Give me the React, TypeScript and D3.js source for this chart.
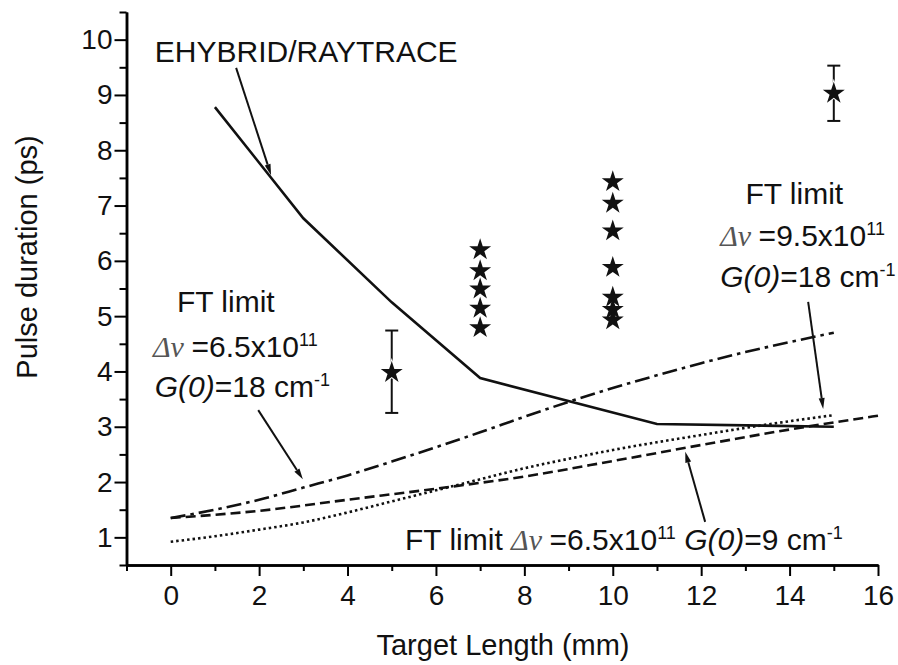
import { useEffect, useRef } from "react";
import * as d3 from "d3";

const W = 898;
const H = 665;
const FONT = "'Liberation Sans', Arial, Helvetica, sans-serif";

// EHYBRID/RAYTRACE model (solid)
const ehybridX = [1, 3, 5, 7, 11, 15];
const ehybridY = [8.78, 6.77, 5.25, 3.88, 3.05, 3.0];

// FT limit, dv = 6.5x10^11, G(0) = 18 cm^-1 (dash-dot)
const ftA_X = [0, 1, 2, 3, 4, 5, 6, 7, 8, 9, 10, 11, 12, 13, 14, 15];
const ftA_Y = [1.35, 1.5, 1.68, 1.9, 2.12, 2.37, 2.63, 2.9, 3.18, 3.45, 3.7, 3.93, 4.15, 4.35, 4.53, 4.7];

// FT limit, dv = 6.5x10^11, G(0) = 9 cm^-1 (dashed)
const ftB_X = [0, 2, 4, 6, 8, 10, 12, 14, 16];
const ftB_Y = [1.35, 1.48, 1.68, 1.88, 2.1, 2.38, 2.67, 2.95, 3.2];

// FT limit, dv = 9.5x10^11, G(0) = 18 cm^-1 (dotted)
const ftC_X = [0, 1, 2, 3, 4, 5, 6, 7, 8, 9, 10, 11, 12, 13, 14, 15];
const ftC_Y = [0.92, 1.02, 1.14, 1.27, 1.45, 1.65, 1.85, 2.05, 2.25, 2.42, 2.58, 2.72, 2.85, 2.98, 3.1, 3.21];

// measured pulse durations (stars)
const measX = [5, 7, 7, 7, 7, 7, 10, 10, 10, 10, 10, 10, 10, 15];
const measY = [3.98, 6.2, 5.82, 5.49, 5.14, 4.79, 7.43, 7.04, 6.54, 5.88, 5.34, 5.12, 4.93, 9.03];

// error bars
const errX = [5, 15];
const errLow = [3.25, 8.53];
const errHigh = [4.74, 9.53];

// axes
const xMajor = [0, 2, 4, 6, 8, 10, 12, 14, 16];
const xMinor = [-1, 1, 3, 5, 7, 9, 11, 13, 15];
const yMajor = [1, 2, 3, 4, 5, 6, 7, 8, 9, 10];
const yMinor = [0.5, 1.5, 2.5, 3.5, 4.5, 5.5, 6.5, 7.5, 8.5, 9.5, 10.5];

// annotation arrows, in data units: [x0, y0, x1, y1] (tail -> tip)
const arrows = [
  [1.48, 9.49, 2.27, 7.55],
  [1.98, 3.3, 2.99, 2.05],
  [14.42, 5.26, 14.76, 3.32],
  [12.09, 1.28, 11.64, 2.55],
];

type Part = { t: string; k?: "i" | "g" | "sup" };
// annotation text lines, positioned in data units (start x, baseline y)
const labels: { x: number; y: number; parts: Part[] }[] = [
  { x: -0.36, y: 9.6, parts: [{ t: "EHYBRID/RAYTRACE" }] },
  { x: 0.14, y: 5.08, parts: [{ t: "FT limit" }] },
  { x: -0.4, y: 4.27, parts: [{ t: "\u0394\u03BD ", k: "g" }, { t: "=6.5x10" }, { t: "11", k: "sup" }] },
  { x: -0.36, y: 3.54, parts: [{ t: "G(0)", k: "i" }, { t: "=18 cm" }, { t: "-1", k: "sup" }] },
  { x: 13.0, y: 7.03, parts: [{ t: "FT limit" }] },
  { x: 12.43, y: 6.27, parts: [{ t: "\u0394\u03BD ", k: "g" }, { t: "=9.5x10" }, { t: "11", k: "sup" }] },
  { x: 12.43, y: 5.52, parts: [{ t: "G(0)", k: "i" }, { t: "=18 cm" }, { t: "-1", k: "sup" }] },
  {
    x: 5.3,
    y: 0.77,
    parts: [
      { t: "FT limit " },
      { t: "\u0394\u03BD ", k: "g" },
      { t: "=6.5x10" },
      { t: "11", k: "sup" },
      { t: " " },
      { t: "G(0)", k: "i" },
      { t: "=9 cm" },
      { t: "-1", k: "sup" },
    ],
  },
];

export default function App() {
  const svgRef = useRef(null);

  useEffect(() => {
    const svg = d3.select(svgRef.current).attr("viewBox", [0, 0, W, H]);
    svg.selectAll("*").remove();

    const xScale = d3.scaleLinear().domain([-1, 16]).range([126.5, 878]);
    const yScale = d3.scaleLinear().domain([0.5, 10.5]).range([565, 12]);

    // Axes
    const styleAxis = (g: any) => {
      g.select(".domain").attr("stroke-width", 2.5);
      g.selectAll(".tick line").attr("stroke-width", 2);
      g.selectAll(".tick text")
        .attr("font-size", 28)
        .attr("font-family", FONT)
        .attr("fill", "#111");
    };

    svg
      .append("g")
      .attr("transform", `translate(0, ${yScale(0.5)})`)
      .call(d3.axisBottom(xScale).tickValues(xMinor).tickSize(6).tickSizeOuter(0).tickFormat(() => ""))
      .call(styleAxis);
    svg
      .append("g")
      .attr("transform", `translate(0, ${yScale(0.5)})`)
      .call(d3.axisBottom(xScale).tickValues(xMajor).tickSize(11).tickSizeOuter(0).tickPadding(9).tickFormat(d3.format("d")))
      .call(styleAxis);

    svg
      .append("g")
      .attr("transform", `translate(${xScale(-1)}, 0)`)
      .call(d3.axisLeft(yScale).tickValues(yMinor).tickSize(7).tickSizeOuter(0).tickFormat(() => ""))
      .call(styleAxis);
    svg
      .append("g")
      .attr("transform", `translate(${xScale(-1)}, 0)`)
      .call(d3.axisLeft(yScale).tickValues(yMajor).tickSize(12).tickSizeOuter(0).tickPadding(2).tickFormat(d3.format("d")))
      .call(styleAxis);

    // Axis titles
    svg
      .append("text")
      .attr("x", 503)
      .attr("y", 655)
      .attr("text-anchor", "middle")
      .attr("font-family", FONT)
      .attr("font-size", 29)
      .attr("fill", "#111")
      .text("Target Length (mm)");
    svg
      .append("text")
      .attr("transform", "translate(37, 257) rotate(-90)")
      .attr("text-anchor", "middle")
      .attr("font-family", FONT)
      .attr("font-size", 29)
      .attr("fill", "#111")
      .text("Pulse duration (ps)");

    // Curves
    const drawCurve = (xs: number[], ys: number[], dash: string | null, curve: any) => {
      const pts = xs.map((x, i) => [x, ys[i]] as [number, number]);
      const line = d3
        .line()
        .x((d: any) => xScale(d[0]))
        .y((d: any) => yScale(d[1]))
        .curve(curve);
      const p = svg
        .append("path")
        .datum(pts)
        .attr("fill", "none")
        .attr("stroke", "#111")
        .attr("stroke-width", 2.6)
        .attr("d", line as any);
      if (dash) p.attr("stroke-dasharray", dash);
    };

    drawCurve(ftC_X, ftC_Y, "2.5,3", d3.curveMonotoneX);
    drawCurve(ftB_X, ftB_Y, "10,5", d3.curveMonotoneX);
    drawCurve(ftA_X, ftA_Y, "15,5,3.5,5", d3.curveMonotoneX);
    drawCurve(ehybridX, ehybridY, null, d3.curveLinear);

    // Error bars
    errX.forEach((x, i) => {
      const cx = xScale(x);
      const g = svg.append("g").attr("stroke", "#111").attr("stroke-width", 2);
      g.append("line").attr("x1", cx).attr("x2", cx).attr("y1", yScale(errLow[i])).attr("y2", yScale(errHigh[i]));
      [errLow[i], errHigh[i]].forEach((v) => {
        g.append("line")
          .attr("x1", cx - 6.5)
          .attr("x2", cx + 6.5)
          .attr("y1", yScale(v))
          .attr("y2", yScale(v));
      });
    });

    // Stars
    const star = d3.symbol(d3.symbolStar, 150);
    const starHalo = d3.symbol(d3.symbolStar, 240);
    const pts = measX.map((x, i) => [x, measY[i]]);
    svg
      .append("g")
      .selectAll("path")
      .data(pts)
      .join("path")
      .attr("transform", (d) => `translate(${xScale(d[0])}, ${yScale(d[1])})`)
      .attr("d", starHalo as any)
      .attr("fill", "#fff");
    svg
      .append("g")
      .selectAll("path")
      .data(pts)
      .join("path")
      .attr("transform", (d) => `translate(${xScale(d[0])}, ${yScale(d[1])})`)
      .attr("d", star as any)
      .attr("fill", "#111");

    // Arrows
    arrows.forEach(([x0, y0, x1, y1]) => {
      const ax = xScale(x0), ay = yScale(y0), bx = xScale(x1), by = yScale(y1);
      const ang = Math.atan2(by - ay, bx - ax);
      const len = 11, half = 3;
      const baseX = bx - len * Math.cos(ang), baseY = by - len * Math.sin(ang);
      svg
        .append("line")
        .attr("x1", ax)
        .attr("y1", ay)
        .attr("x2", baseX)
        .attr("y2", baseY)
        .attr("stroke", "#111")
        .attr("stroke-width", 2);
      const nx = -Math.sin(ang) * half, ny = Math.cos(ang) * half;
      svg
        .append("path")
        .attr("d", `M${bx},${by}L${baseX + nx},${baseY + ny}L${baseX - nx},${baseY - ny}Z`)
        .attr("fill", "#111");
    });

    // Annotation text
    labels.forEach((lab) => {
      const t = svg
        .append("text")
        .attr("x", xScale(lab.x))
        .attr("y", yScale(lab.y))
        .attr("font-family", FONT)
        .attr("font-size", 30)
        .attr("fill", "#111")
        .style("white-space", "pre");
      let raised = false;
      lab.parts.forEach((p) => {
        const s = t.append("tspan").text(p.t);
        if (p.k === "sup") {
          s.attr("font-size", 18).attr("dy", -11);
          raised = true;
          return;
        }
        if (raised) {
          s.attr("dy", 11);
          raised = false;
        }
        if (p.k === "i") s.attr("font-style", "italic");
        if (p.k === "g")
          s.attr("font-style", "italic")
            .attr("font-family", "'Liberation Serif', 'DejaVu Serif', serif")
            .attr("fill", "#555");
      });
    });
  }, []);

  return (
    <svg
      ref={svgRef}
      width={W}
      height={H}
      style={{ position: "absolute", left: 0, top: 0, display: "block", background: "#fff" }}
    />
  );
}
